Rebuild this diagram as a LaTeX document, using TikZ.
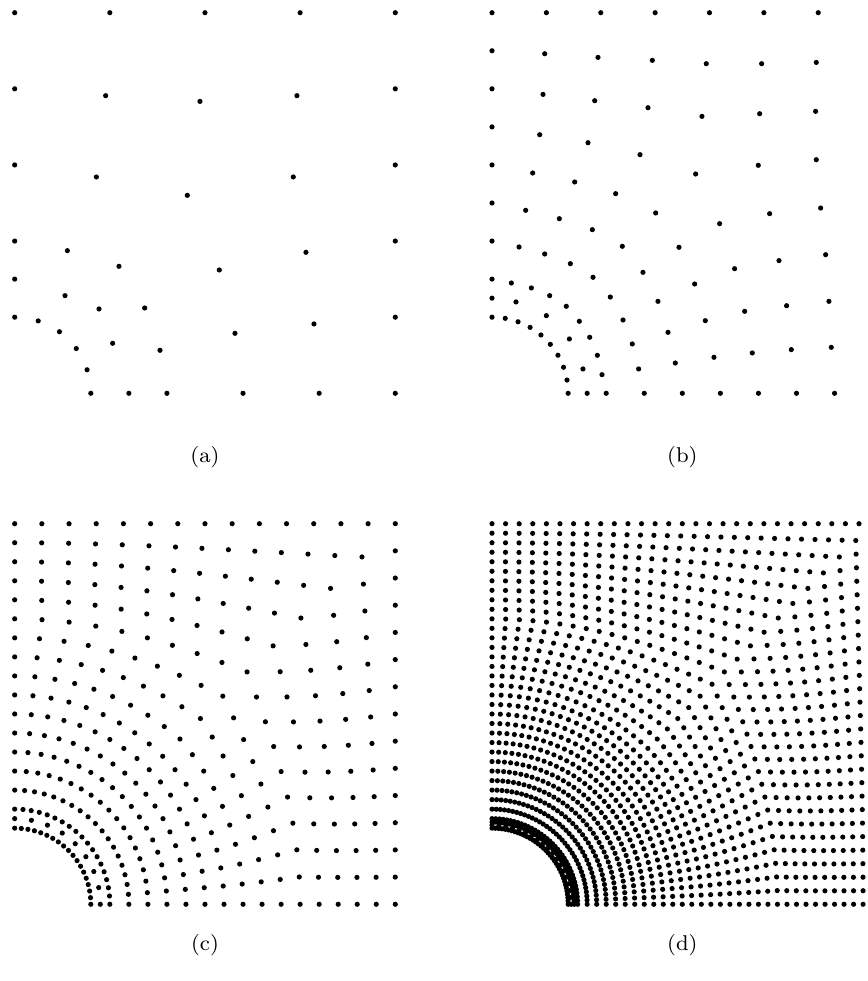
\documentclass[tikz,border=0pt]{standalone}
\usepackage{tikz}

\newcommand{\ptrad}{0.034}
% one layer of nodes round the hole: #1 = offset, #2 = intervals, #3 = squareness
\newcommand{\meshlayer}[3]{%
  \foreach \j in {0,...,#2}{%
    \pgfmathsetmacro\mtau{\j/#2}%
    \pgfmathsetmacro\mpsis{\mtau<=0.5 ? atan(2*\mtau) : 90-atan(2*(1-\mtau))}%
    \pgfmathsetmacro\mpsi{(1-#3)*90*\mtau+#3*\mpsis}%
    \pgfmathsetmacro\mrr{#1*((1-#3)+#3/max(cos(\mpsi),sin(\mpsi)))}%
    \fill[meshpt] ({90-\mpsi}:\mrr) circle (\ptrad);
  }%
}
% layer with spacing #2 and at least #3 intervals
\newcommand{\meshauto}[3]{%
  \pgfmathsetmacro\mtt{(#1-1)/4}%
  \pgfmathsetmacro\mww{min((max(\mtt-0.45,0.0001)/0.55)^1.2,1)}%
  \pgfmathsetmacro\mL{(1-\mww)*pi*#1/2+\mww*2*#1}%
  \pgfmathtruncatemacro\mn{max(#3,round(\mL/#2))}%
  \meshlayer{#1}{\mn}{\mww}%
}

\begin{document}
\begin{tikzpicture}[
    meshpt/.style={fill=black},
    subcap/.style={font=\fontsize{8}{9.6}\selectfont, inner sep=0pt},
]
\useasboundingbox (-0.193,-7.721) rectangle (11.210,5.167);
\clip (-0.193,-7.721) rectangle (11.210,5.167);

% (a)
\begin{scope}
\foreach \p in {(0,5),(1.25,5),(2.5,5),(3.75,5),(5,5),
    (0,4),(5,4),(1.195,3.910),(2.434,3.835),(3.708,3.910),
    (0,3),(5,3),(1.073,2.842),(3.660,2.842),(2.268,2.601),
    (0,2),(5,2),(0.692,1.874),(3.827,1.852),(1.370,1.668),(2.688,1.620),
    (0,1.5),(0.661,1.283),(1.108,1.108),(1.708,1.121),
    (0,1),(5,1),(0.309,0.951),(0.588,0.809),(3.932,0.911),(2.894,0.788),
    (0.809,0.588),(1.287,0.657),(1.909,0.565),(0.951,0.309),
    (1,0),(1.5,0),(2,0),(3,0),(4,0),(5,0)}
    {\fill[meshpt] \p circle (\ptrad);}
\node[subcap] (capa) at (2.5,-0.837) {(a)};
\end{scope}

% (b)
\begin{scope}[shift={(6.271,0)}]
\foreach \k in {0,...,7}
    {\fill[meshpt] ({5*\k/7},5) circle (\ptrad);}
\foreach \v in {4.5,4,3.5,3,2.5,2,1.5,1.25}
    {\fill[meshpt] (0,\v) circle (\ptrad);}
\foreach \u in {1.25,1.5,2,2.5,3,3.5,4,4.5,5}
    {\fill[meshpt] (\u,0) circle (\ptrad);}
\foreach \a in {0,10,...,90}
    {\fill[meshpt] (\a:1) circle (\ptrad);}
\foreach \p in {(0.692,4.461),(1.392,4.413),(2.106,4.374),(2.815,4.330),(3.542,4.330),(4.260,4.347),
    (0.670,3.927),(1.349,3.844),(2.049,3.752),(2.758,3.638),(3.516,3.673),(4.251,3.704),
    (0.626,3.397),(1.261,3.292),(1.944,3.135),(2.675,2.881),(3.498,2.995),(4.260,3.069),
    (0.534,2.894),(1.086,2.776),(1.624,2.623),(2.150,2.369),(2.990,2.229),(3.647,2.360),(4.317,2.434),
    (0.442,2.404),(0.884,2.294),(1.318,2.150),(1.712,1.931),(2.456,1.918),(3.187,1.637),(3.770,1.743),(4.383,1.821),
    (0.355,1.922),(0.692,1.830),(1.029,1.703),(1.327,1.524),(1.983,1.589),(2.662,1.436),(1.554,1.265),
    (2.180,1.208),(2.802,0.954),(3.319,1.077),(3.870,1.151),(4.426,1.208),
    (0.254,1.449),(0.517,1.384),(0.757,1.283),(0.976,1.143),(1.147,0.946),(1.721,0.963),(2.312,0.801),
    (1.843,0.648),(2.408,0.398),(1.926,0.320),(2.916,0.473),(3.419,0.530),(3.932,0.574),(4.457,0.604),
    (0.315,1.200),(0.714,1.020),(1.016,0.714),(1.283,0.736),(1.384,0.499),(1.195,0.320),(1.445,0.245)}
    {\fill[meshpt] \p circle (\ptrad);}
\node[subcap] (capb) at (2.5,-0.837) {(b)};
\end{scope}

% (c)
\begin{scope}[shift={(0,-6.713)}]
\meshlayer{1}{18}{0}
\meshlayer{1.125}{8}{0}
\meshlayer{1.25}{18}{0}
\foreach \v in {1.5,1.75,...,5}
    {\meshauto{\v}{0.35714}{18}}
\node[subcap] (capc) at (2.5,-0.535) {(c)};
\end{scope}

% (d)
\begin{scope}[shift={(6.271,-6.713)}]
\meshlayer{1}{36}{0}
\meshlayer{1.04}{18}{0}
\meshlayer{1.08}{36}{0}
\meshlayer{1.125}{36}{0}
\foreach \v in {1.25,1.375,...,5}
    {\meshauto{\v}{0.178571}{36}}
\node[subcap] (capd) at (2.5,-0.535) {(d)};
\end{scope}
\end{tikzpicture}
\end{document}
